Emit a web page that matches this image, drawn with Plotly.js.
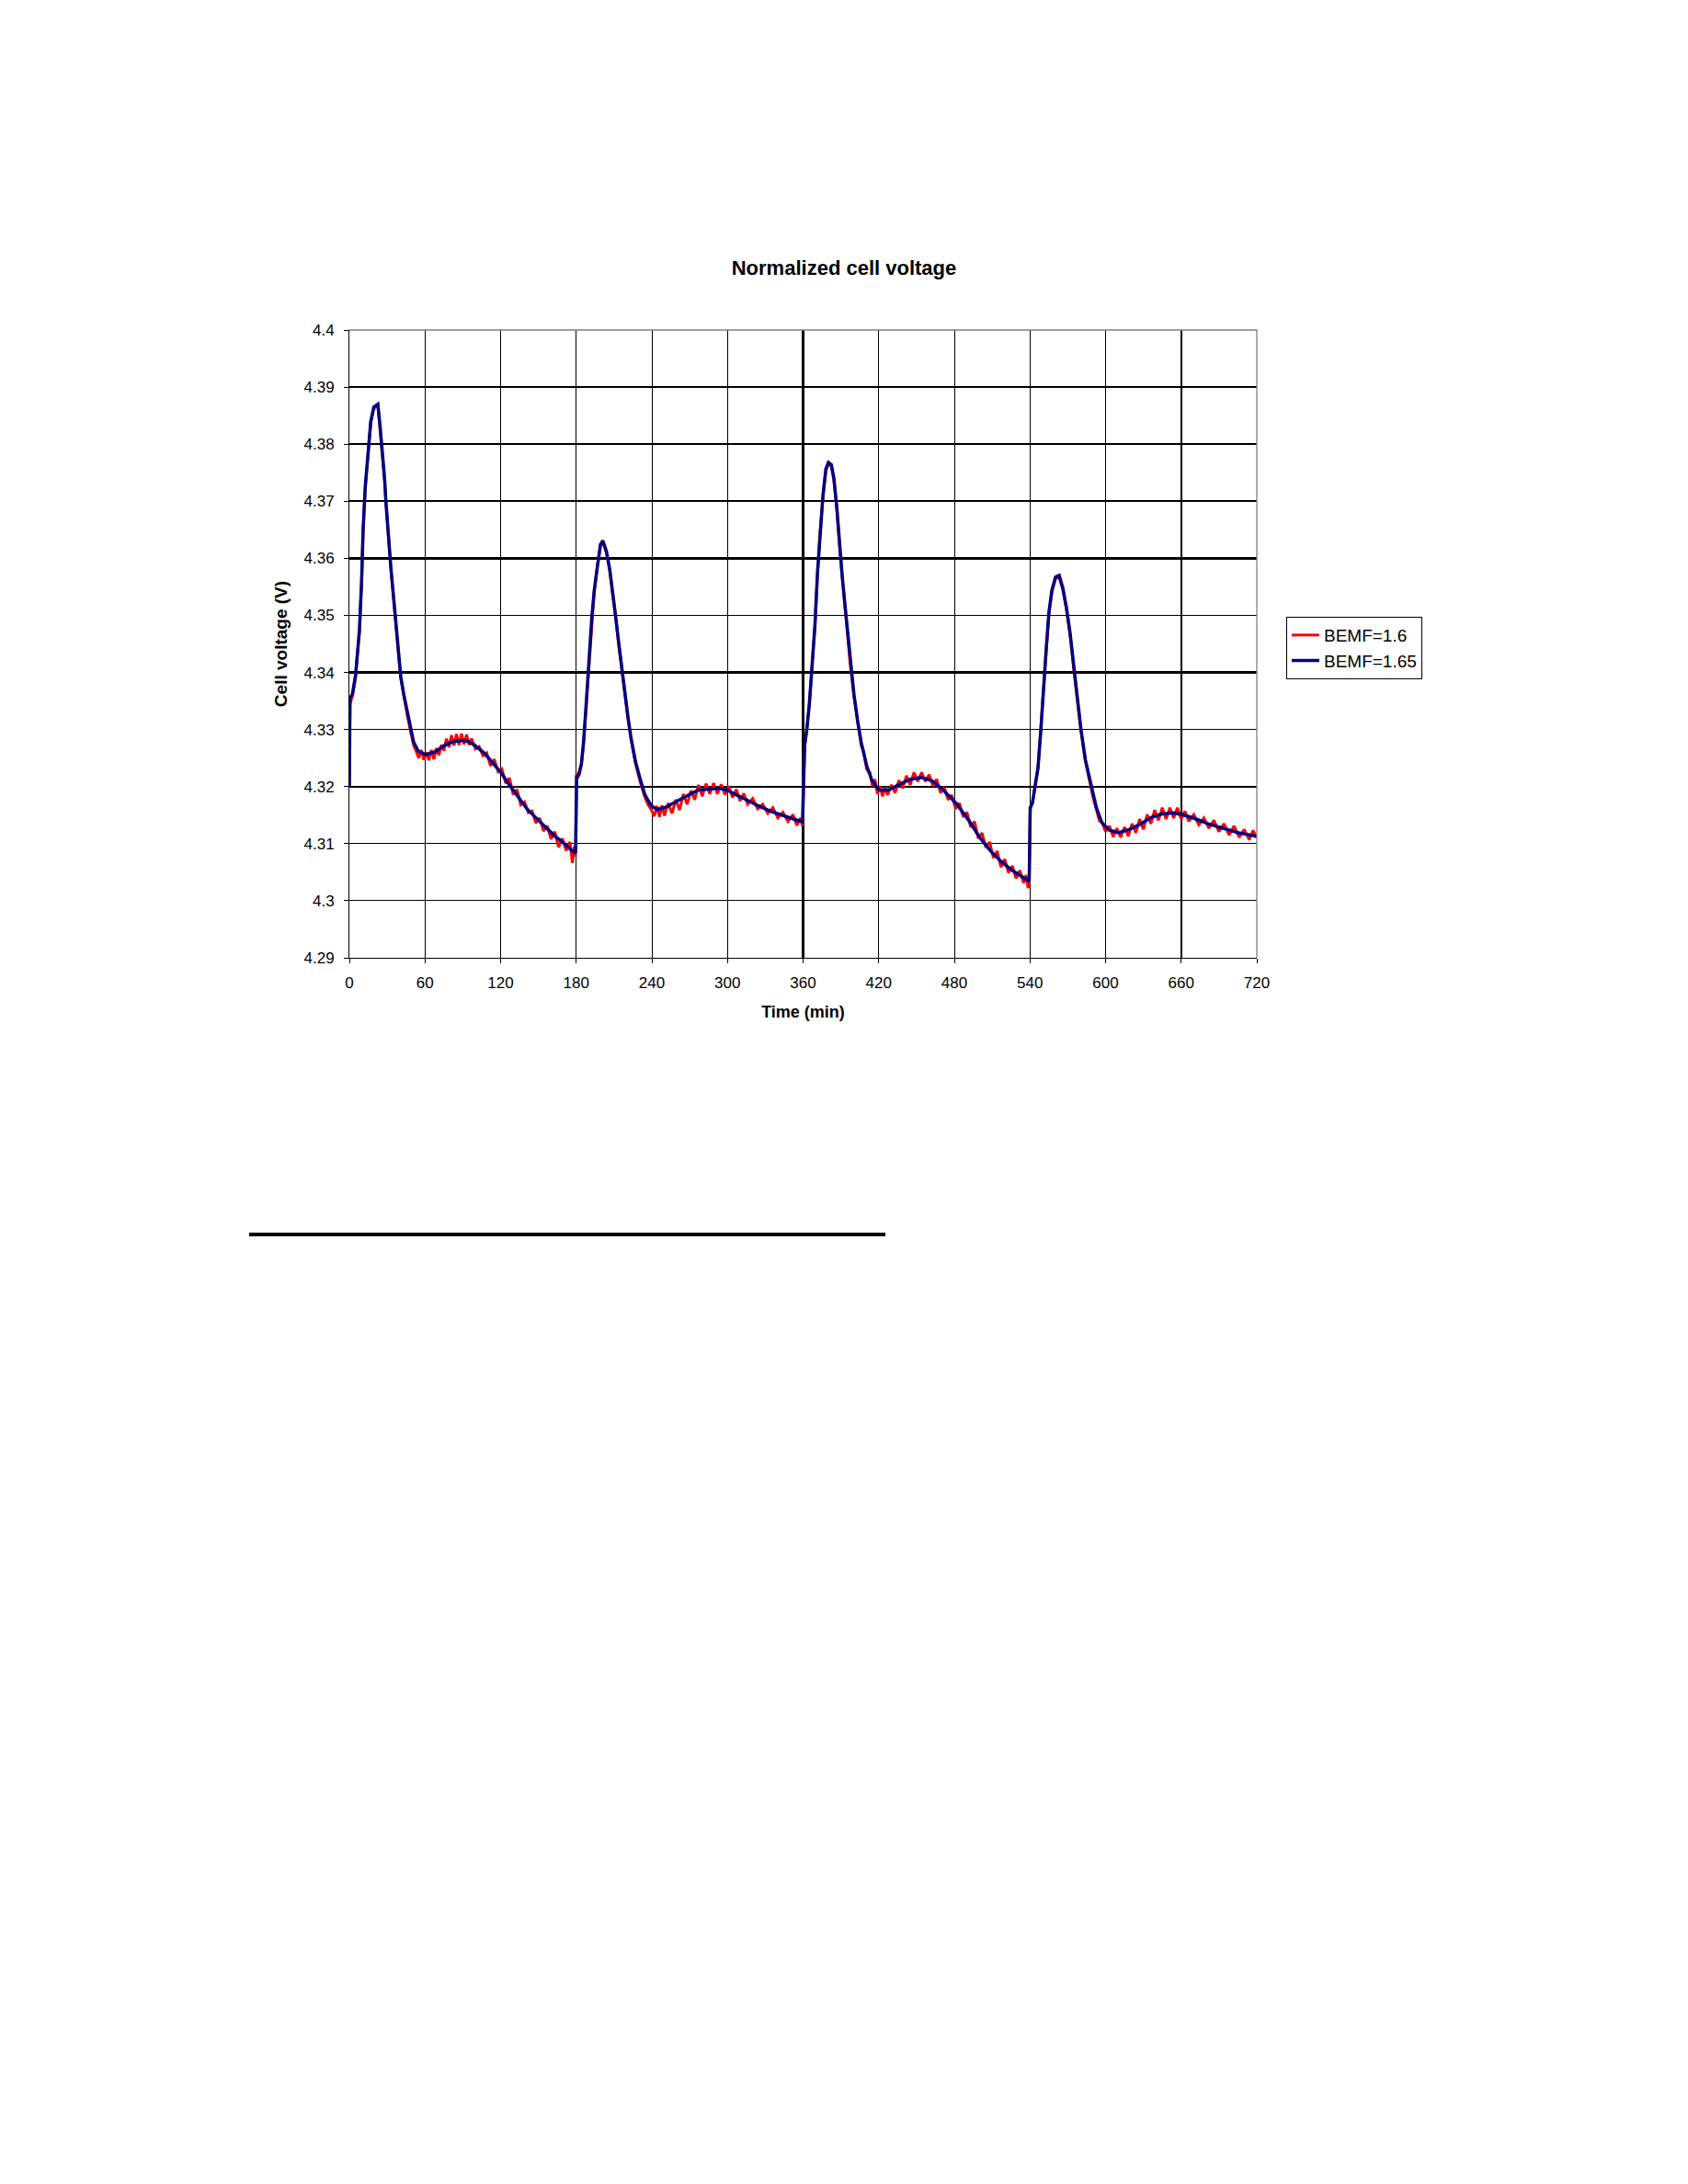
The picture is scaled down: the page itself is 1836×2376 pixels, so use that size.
<!DOCTYPE html>
<html>
<head>
<meta charset="utf-8">
<script src="https://cdn.plot.ly/plotly-3.0.1.min.js"></script>
<style>
  html, body { margin: 0; padding: 0; background: #ffffff; }
  #chart { width: 1836px; height: 2376px; position: absolute; left: 0; top: 0; }
  #rule { position: absolute; left: 271px; top: 1341px; width: 692px; height: 4px; background: #000000; }
</style>
</head>
<body>
<div id="chart"></div>
<div id="rule"></div>
<script>
// ---------------- data ----------------
const chartTitle = 'Normalized cell voltage';
const xTitle = 'Time (min)';
const yTitle = 'Cell voltage (V)';
const seriesNames = ['BEMF=1.6', 'BEMF=1.65'];

const xTickVals = [0, 60, 120, 180, 240, 300, 360, 420, 480, 540, 600, 660, 720];
const yTickVals = [4.29, 4.30, 4.31, 4.32, 4.33, 4.34, 4.35, 4.36, 4.37, 4.38, 4.39, 4.40];
const yTickText = ['4.29', '4.3', '4.31', '4.32', '4.33', '4.34', '4.35', '4.36', '4.37', '4.38', '4.39', '4.4'];
// grid lines that look heavier in the reference
const thickXGrid = [360, 660];
const thickYGrid = [4.32, 4.34, 4.36, 4.37, 4.38, 4.39];

// BEMF=1.65 (dark blue)
const timeBlue = [
  0, 0.5, 2.4, 4.9, 6, 8, 9.7, 10.9,
  12.6, 14.6, 17, 19.4, 21, 22.6, 24.3, 26.2,
  27.9, 29.1, 31, 33, 35.2, 36.9, 38.9, 40.8,
  43.2, 46.2, 48.6, 51, 54.7, 60.7, 68, 75.3,
  82.6, 89.9, 94.7, 99.6, 106.9, 114.2, 119.8, 126.3,
  133.6, 140.9, 148.2, 155.5, 162.7, 170, 176, 179.5,
  180.3, 181, 182.2, 184.1, 185.8, 187.5, 189, 190.7,
  192.4, 194.3, 196.7, 199.2, 201.1, 204, 206.5, 208.9,
  211.3, 213.7, 216.2, 218.6, 221, 223.5, 227.1, 230.8,
  234.4, 239.3, 244.1, 250.2, 257.5, 267.2, 276.9, 286.6,
  293, 300, 306.4, 315, 323.7, 335.3, 346.9, 358.4,
  359.6, 360.3, 361.3, 363, 365, 367, 369.4, 371.4,
  373.5, 375.8, 378.1, 380.1, 382.4, 384.4, 386.8, 388.8,
  391.1, 393.1, 395.4, 397.5, 400.4, 403.2, 406.1, 410.5,
  414.8, 420.3, 427.8, 436.5, 445.2, 453.9, 462.5, 471.2,
  481.3, 491.4, 500.1, 508.8, 517.5, 526.1, 533.4, 539.4,
  540.2, 542, 544.1, 546.4, 548.7, 550.7, 553, 555.1,
  557.4, 560.3, 563.2, 566.1, 569, 571.9, 574.8, 577.6,
  580.5, 584, 588.4, 592.7, 597, 602.8, 610.1, 618.8,
  627.4, 636.1, 644.8, 653.5, 662.2, 670.8, 682.3, 693.9,
  705.5, 720
];
const voltBlue = [
  4.3200, 4.3355, 4.3362, 4.3395, 4.3422, 4.3475, 4.3559, 4.3650,
  4.3726, 4.3780, 4.3840, 4.3865, 4.3868, 4.3870, 4.3833, 4.3787,
  4.3741, 4.3696, 4.3635, 4.3582, 4.3529, 4.3483, 4.3437, 4.3392,
  4.3361, 4.3327, 4.3300, 4.3278, 4.3262, 4.3256, 4.3261, 4.3272,
  4.3279, 4.3281, 4.3279, 4.3272, 4.3259, 4.3240, 4.3226, 4.3205,
  4.3183, 4.3161, 4.3145, 4.3129, 4.3114, 4.3101, 4.3089, 4.3084,
  4.3217, 4.3217, 4.3221, 4.3240, 4.3278, 4.3331, 4.3384, 4.3445,
  4.3498, 4.3544, 4.3589, 4.3624, 4.3631, 4.3612, 4.3582, 4.3544,
  4.3498, 4.3452, 4.3407, 4.3361, 4.3323, 4.3285, 4.3243, 4.3213,
  4.3186, 4.3167, 4.3160, 4.3163, 4.3171, 4.3183, 4.3194, 4.3196,
  4.3197, 4.3194, 4.3186, 4.3177, 4.3167, 4.3156, 4.3147, 4.3139,
  4.3138, 4.3202, 4.3274, 4.3300, 4.3346, 4.3407, 4.3483, 4.3574,
  4.3650, 4.3711, 4.3757, 4.3768, 4.3764, 4.3741, 4.3688, 4.3627,
  4.3567, 4.3521, 4.3468, 4.3414, 4.3361, 4.3316, 4.3278, 4.3236,
  4.3210, 4.3194, 4.3194, 4.3204, 4.3213, 4.3216, 4.3210, 4.3194,
  4.3171, 4.3141, 4.3111, 4.3087, 4.3068, 4.3053, 4.3042, 4.3034,
  4.3163, 4.3171, 4.3202, 4.3232, 4.3300, 4.3376, 4.3445, 4.3506,
  4.3544, 4.3567, 4.3570, 4.3548, 4.3513, 4.3468, 4.3407, 4.3354,
  4.3300, 4.3247, 4.3202, 4.3163, 4.3137, 4.3124, 4.3119, 4.3125,
  4.3134, 4.3146, 4.3152, 4.3154, 4.3150, 4.3144, 4.3134, 4.3127,
  4.3119, 4.3113
];

// BEMF=1.6 (red, noisier)
const timeRed = [
  0, 0.5, 2.4, 4.9, 6, 8, 9.7, 10.9,
  12.6, 14.6, 17, 19.4, 21, 22.6, 24.3, 26.2,
  27.9, 29.1, 31, 33, 35.2, 36.9, 38.9, 40.8,
  43.2, 46.2, 48.6, 51, 53, 55, 57, 59,
  61, 63, 65, 67, 69, 71, 73, 75,
  77, 79, 81, 83, 85, 87, 89, 91,
  93, 95, 97, 100, 103, 106, 109, 112,
  115, 118, 121, 124, 127, 130, 133, 136,
  139, 142, 145, 148, 151, 154, 157, 160,
  163, 166, 169, 172, 175, 177, 178.5, 179.5,
  180.3, 181, 182.2, 184.1, 185.8, 187.5, 189, 190.7,
  192.4, 194.3, 196.7, 199.2, 201.1, 204, 206.5, 208.9,
  211.3, 213.7, 216.2, 218.6, 221, 223.5, 227.1, 230.8,
  234.4, 237, 239.5, 242, 244, 246, 248, 250,
  253, 256, 259, 262, 265, 268, 271, 274,
  277, 280, 283, 286, 289, 292, 295, 298,
  301, 304, 307, 310, 313, 316, 320, 324,
  328, 332, 336, 340, 344, 348, 352, 355,
  358, 359.6, 360.3, 361.3, 363, 365, 367, 369.4,
  371.4, 373.5, 375.8, 378.1, 380.1, 382.4, 384.4, 386.8,
  388.8, 391.1, 393.1, 395.4, 397.5, 400.4, 403.2, 406.1,
  408, 410.5, 413, 415, 417, 419, 421, 423,
  425, 427, 430, 433, 436, 439, 442, 445,
  448, 451, 454, 457, 460, 463, 466, 469,
  472, 475, 478, 481, 484, 487, 490, 493,
  496, 499, 502, 505, 508, 511, 514, 517,
  520, 523, 526, 529, 532, 535, 537, 538.5,
  539.4, 540.2, 542, 544.1, 546.4, 548.7, 550.7, 553,
  555.1, 557.4, 560.3, 563.2, 566.1, 569, 571.9, 574.8,
  577.6, 580.5, 584, 586, 588.4, 590, 592.7, 595,
  597, 600, 603, 606, 609, 612, 615, 618,
  621, 624, 627, 630, 633, 636, 639, 642,
  645, 648, 651, 654, 657, 660, 663, 666,
  670, 674, 678, 682, 686, 690, 694, 698,
  702, 706, 710, 714, 717, 720
];
const voltRed = [
  4.3200, 4.3345, 4.3358, 4.3390, 4.3425, 4.3470, 4.3560, 4.3648,
  4.3722, 4.3776, 4.3838, 4.3862, 4.3866, 4.3868, 4.3830, 4.3784,
  4.3738, 4.3694, 4.3633, 4.3580, 4.3526, 4.3480, 4.3434, 4.3390,
  4.3358, 4.3322, 4.3296, 4.3272, 4.3262, 4.3250, 4.3264, 4.3247,
  4.3260, 4.3246, 4.3264, 4.3248, 4.3267, 4.3255, 4.3273, 4.3263,
  4.3284, 4.3269, 4.3290, 4.3272, 4.3292, 4.3273, 4.3293, 4.3274,
  4.3291, 4.3273, 4.3284, 4.3266, 4.3270, 4.3254, 4.3259, 4.3236,
  4.3248, 4.3226, 4.3231, 4.3206, 4.3215, 4.3186, 4.3195, 4.3168,
  4.3173, 4.3154, 4.3157, 4.3136, 4.3145, 4.3122, 4.3131, 4.3108,
  4.3121, 4.3094, 4.3109, 4.3088, 4.3103, 4.3066, 4.3095, 4.3078,
  4.3224, 4.3214, 4.3226, 4.3238, 4.3275, 4.3329, 4.3382, 4.3442,
  4.3496, 4.3541, 4.3586, 4.3621, 4.3629, 4.3609, 4.3579, 4.3541,
  4.3495, 4.3449, 4.3404, 4.3358, 4.3320, 4.3282, 4.3240, 4.3208,
  4.3182, 4.3168, 4.3160, 4.3148, 4.3166, 4.3147, 4.3167, 4.3149,
  4.3171, 4.3153, 4.3177, 4.3159, 4.3187, 4.3169, 4.3193, 4.3177,
  4.3203, 4.3183, 4.3205, 4.3187, 4.3206, 4.3187, 4.3204, 4.3186,
  4.3201, 4.3181, 4.3195, 4.3175, 4.3188, 4.3169, 4.3179, 4.3161,
  4.3169, 4.3153, 4.3163, 4.3145, 4.3155, 4.3139, 4.3151, 4.3132,
  4.3145, 4.3131, 4.3205, 4.3270, 4.3302, 4.3344, 4.3410, 4.3480,
  4.3570, 4.3646, 4.3708, 4.3754, 4.3765, 4.3761, 4.3738, 4.3685,
  4.3624, 4.3564, 4.3518, 4.3465, 4.3411, 4.3358, 4.3313, 4.3272,
  4.3262, 4.3230, 4.3225, 4.3201, 4.3213, 4.3187, 4.3201, 4.3183,
  4.3199, 4.3185, 4.3203, 4.3189, 4.3211, 4.3197, 4.3219, 4.3203,
  4.3225, 4.3209, 4.3225, 4.3209, 4.3221, 4.3201, 4.3213, 4.3189,
  4.3199, 4.3177, 4.3185, 4.3161, 4.3171, 4.3147, 4.3155, 4.3129,
  4.3139, 4.3109, 4.3119, 4.3093, 4.3103, 4.3075, 4.3087, 4.3059,
  4.3073, 4.3049, 4.3061, 4.3039, 4.3053, 4.3031, 4.3045, 4.3022,
  4.3032, 4.3160, 4.3174, 4.3198, 4.3235, 4.3305, 4.3374, 4.3442,
  4.3503, 4.3541, 4.3564, 4.3567, 4.3545, 4.3510, 4.3465, 4.3404,
  4.3351, 4.3297, 4.3244, 4.3222, 4.3198, 4.3182, 4.3160, 4.3140,
  4.3138, 4.3121, 4.3131, 4.3112, 4.3127, 4.3111, 4.3129, 4.3113,
  4.3135, 4.3119, 4.3143, 4.3125, 4.3151, 4.3135, 4.3159, 4.3141,
  4.3163, 4.3143, 4.3163, 4.3145, 4.3163, 4.3143, 4.3157, 4.3139,
  4.3151, 4.3133, 4.3145, 4.3127, 4.3141, 4.3121, 4.3135, 4.3115,
  4.3131, 4.3111, 4.3125, 4.3107, 4.3123, 4.3110
];

if (timeBlue.length !== voltBlue.length || timeRed.length !== voltRed.length) {
  console.error('length mismatch', timeBlue.length, voltBlue.length, timeRed.length, voltRed.length);
}

// ---------------- chart ----------------
const FONT = '"Liberation Sans", Arial, Helvetica, sans-serif';

const traces = [
  {
    // empty carrier so the heavier-grid overlay axes get drawn (no marks)
    x: [], y: [], xaxis: 'x2', yaxis: 'y2', type: 'scatter', mode: 'lines',
    showlegend: false, hoverinfo: 'skip'
  },
  {
    x: timeRed, y: voltRed, name: seriesNames[0], type: 'scatter', mode: 'lines',
    legendgroup: 'g1',
    line: { color: '#FF0000', width: 3 }
  },
  {
    x: timeBlue, y: voltBlue, name: seriesNames[1], type: 'scatter', mode: 'lines',
    legendgroup: 'g2',
    line: { color: '#000080', width: 3.5 }
  }
];

const baseAxis = {
  showgrid: true, gridcolor: '#000000', gridwidth: 1,
  zeroline: false, fixedrange: true, automargin: false
};

const layout = {
  width: 1836, height: 2376,
  margin: { l: 380, r: 469, t: 359, b: 1334, pad: 0 },
  paper_bgcolor: '#ffffff', plot_bgcolor: '#ffffff',
  font: { family: FONT, color: '#000000' },
  showlegend: true,
  title: {
    text: chartTitle,
    font: { family: FONT, size: 22, weight: 'bold', color: '#000000' },
    xref: 'container', yref: 'container', x: 0.5, y: 0.8775,
    xanchor: 'center', yanchor: 'middle'
  },
  xaxis: Object.assign({}, baseAxis, {
    range: [0, 720], tickvals: xTickVals, ticktext: xTickVals.map(String),
    showline: true, linecolor: '#000000', linewidth: 1,
    ticks: 'outside', ticklen: 5, tickwidth: 1, tickcolor: '#000000',
    ticklabelstandoff: 7,
    tickfont: { family: FONT, size: 17, color: '#000000' },
    title: { text: xTitle, font: { family: FONT, size: 18, weight: 'bold', color: '#000000' }, standoff: 15 }
  }),
  yaxis: Object.assign({}, baseAxis, {
    range: [4.29, 4.40], tickvals: yTickVals, ticktext: yTickText,
    showline: true, linecolor: '#000000', linewidth: 1,
    ticks: 'outside', ticklen: 5, tickwidth: 1, tickcolor: '#000000',
    ticklabelstandoff: 7,
    tickfont: { family: FONT, size: 17, color: '#000000' },
    title: { text: yTitle, font: { family: FONT, size: 19, weight: 'bold', color: '#000000' }, standoff: 12 }
  }),
  xaxis2: Object.assign({}, baseAxis, {
    overlaying: 'x', anchor: 'y2', side: 'bottom', range: [0, 720], tickvals: thickXGrid,
    gridwidth: 2.4, showline: false, showticklabels: false, ticks: ''
  }),
  yaxis2: Object.assign({}, baseAxis, {
    overlaying: 'y', anchor: 'x2', side: 'left', range: [4.29, 4.40], tickvals: thickYGrid,
    gridwidth: 2.4, showline: false, showticklabels: false, ticks: ''
  }),
  legend: {
    x: 1.0324, y: 0.5432, xanchor: 'left', yanchor: 'top',
    xref: 'paper', yref: 'paper',
    bgcolor: '#ffffff', bordercolor: '#000000', borderwidth: 1,
    font: { family: FONT, size: 19, color: '#000000' },
    traceorder: 'normal', tracegroupgap: 3, itemwidth: 30
  },
  shapes: [
    {
      type: 'path', xref: 'paper', yref: 'paper', layer: 'above',
      path: 'M 0 1 L 1 1 L 1 0',
      line: { color: '#808080', width: 1.3 }
    }
  ]
};

Plotly.newPlot('chart', traces, layout, { displayModeBar: false, staticPlot: true });
</script>
</body>
</html>
